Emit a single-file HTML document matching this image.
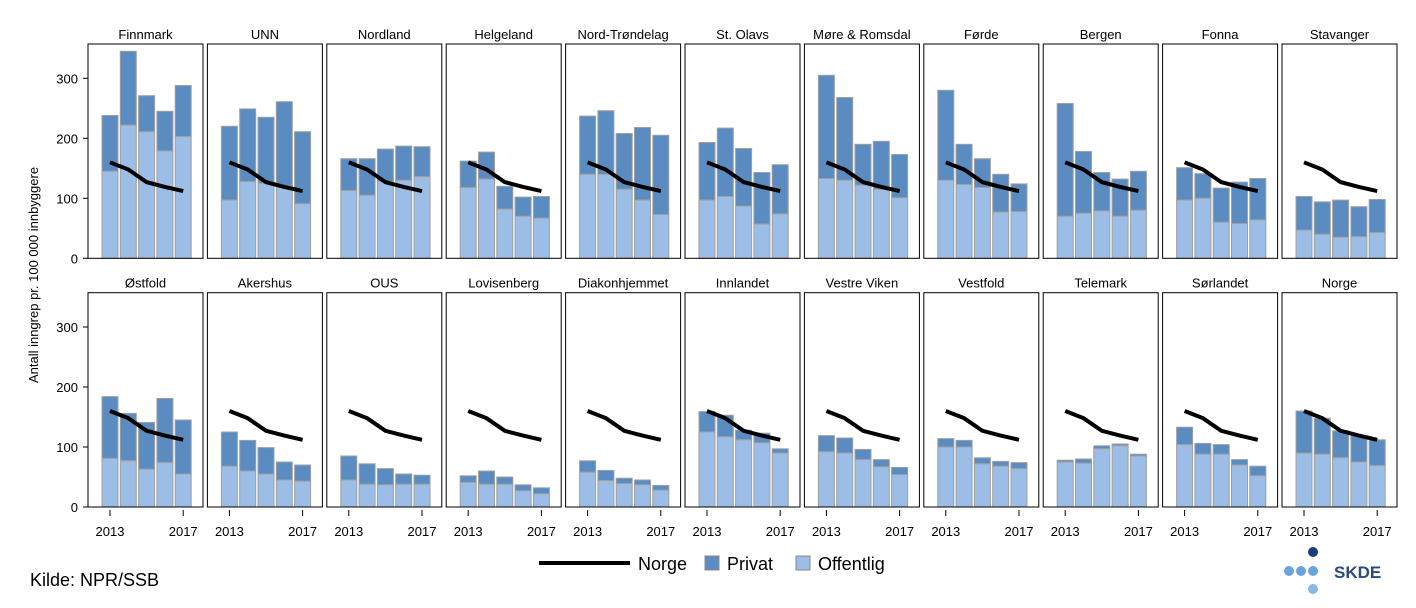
<!DOCTYPE html>
<html><head><meta charset="utf-8"><style>
body{margin:0;background:#fff;width:1416px;height:603px;overflow:hidden;font-family:"Liberation Sans",sans-serif}
svg text{font-family:"Liberation Sans",sans-serif}
</style></head><body>
<svg id="c" width="1416" height="603"></svg>
<script>
const names=["Finnmark","UNN","Nordland","Helgeland","Nord-Trøndelag","St. Olavs","Møre & Romsdal","Førde","Bergen","Fonna","Stavanger","Østfold","Akershus","OUS","Lovisenberg","Diakonhjemmet","Innlandet","Vestre Viken","Vestfold","Telemark","Sørlandet","Norge"];
const years=[2013,2014,2015,2016,2017];
const totals=[[238,345,271,245,288],[220,249,235,261,211],[166,166,182,187,186],[162,177,120,102,103],[237,246,208,218,205],[193,217,183,143,156],[305,268,190,195,173],[280,190,166,140,124],[258,178,143,132,145],[151,141,117,127,133],[103,94,97,86,98],
[184,156,141,181,145],[125,111,99,75,70],[85,72,64,55,53],[52,60,50,37,32],[77,61,48,45,36],[159,153,128,123,97],[119,115,96,79,66],[114,111,82,76,74],[78,80,102,105,88],[133,106,104,79,68],[160,148,127,119,112]];
const offentlig=[[145,222,211,179,203],[97,128,125,120,91],[113,105,128,130,136],[118,132,82,70,67],[140,140,115,97,73],[97,103,87,57,74],[133,130,122,115,101],[130,123,118,77,78],[70,75,79,70,80],[97,100,60,58,64],[47,40,35,36,43],
[81,77,63,74,55],[68,60,55,45,43],[45,38,37,38,38],[41,38,38,27,22],[58,44,39,37,28],[125,117,112,107,90],[92,90,79,67,54],[100,100,72,68,64],[75,73,97,102,85],[104,88,88,70,52],[90,88,82,75,69]];
const norge=[160,148,127,119,112];
const yTicks=[0,100,200,300];
const NS="http://www.w3.org/2000/svg";
const svg=document.getElementById('c');
function mk(t,a,p){const e=document.createElementNS(NS,t);for(const k in a)e.setAttribute(k,a[k]);(p||svg).appendChild(e);return e;}
const PW=115,PITCH=119.4,X0=88;
const rowTop=[44,292.7],rowBot=[258.3,507];
const sc=0.6;
names.forEach((n,i)=>{
  const r=Math.floor(i/11),c=i%11;
  const x0=X0+c*PITCH, y0=rowBot[r];
  const g=mk('g',{});
  
  
  const xs=yr=>x0+22+(yr-2013)*18.3;
  const ys=v=>y0-v*sc;
  const t=mk('text',{x:x0+PW/2,y:rowTop[r]-5,'text-anchor':'middle','font-size':13},g);t.textContent=n;
  
  years.forEach((yr,j)=>{
    const b1=mk('rect',{x:xs(yr)-8,y:ys(totals[i][j]),width:16,height:(totals[i][j]-offentlig[i][j])*sc,fill:'#5a8cc2',stroke:'#a0a0a0','stroke-width':1},g);
    
    const b2=mk('rect',{x:xs(yr)-8,y:ys(offentlig[i][j]),width:16,height:offentlig[i][j]*sc,fill:'#9bbde6',stroke:'#a0a0a0','stroke-width':1},g);
    
  });
  const pl=mk('polyline',{points:years.map((yr,j)=>xs(yr)+','+ys(norge[j])).join(' '),fill:'none',stroke:'#000','stroke-width':4},g);
  
  const bx=mk('rect',{x:x0,y:rowTop[r],width:PW,height:rowBot[r]-rowTop[r],fill:'none',stroke:'#000','stroke-width':1},g);
  
  if(r==1){[2013,2017].forEach(yr=>{
    mk('line',{x1:xs(yr),x2:xs(yr),y1:y0+3,y2:y0+9,stroke:'#000'},g);
    const tl=mk('text',{x:xs(yr),y:y0+29,'text-anchor':'middle','font-size':13},g);tl.textContent=yr;
    
  });}
  if(c==0){yTicks.forEach(v=>{
    mk('line',{x1:x0-5,x2:x0,y1:ys(v),y2:ys(v),stroke:'#000'});
    const tl=mk('text',{x:x0-10,y:ys(v)+5,'text-anchor':'end','font-size':13});tl.textContent=v;
    
  });}
});
const yt=mk('text',{x:0,y:0,transform:'translate(38,275) rotate(-90)','text-anchor':'middle','font-size':13});
yt.textContent='Antall inngrep pr. 100 000 innbyggere';

const lg=mk('g',{});
mk('line',{x1:539,x2:630,y1:563,y2:563,stroke:'#000','stroke-width':4},lg);
let tx=mk('text',{x:638,y:570,'font-size':18},lg);tx.textContent='Norge';
mk('rect',{x:705,y:556,width:14,height:14,fill:'#5a8cc2',stroke:'#888'},lg);
tx=mk('text',{x:727,y:570,'font-size':18},lg);tx.textContent='Privat';
mk('rect',{x:796,y:556,width:14,height:14,fill:'#9bbde6',stroke:'#888'},lg);
tx=mk('text',{x:818,y:570,'font-size':18},lg);tx.textContent='Offentlig';
tx=mk('text',{x:30,y:586,'font-size':18});tx.textContent='Kilde: NPR/SSB';

const lo=mk('g',{});
mk('circle',{cx:1313,cy:552,r:5,fill:'#1f3d73'},lo);
[1289,1301,1313].forEach(x=>mk('circle',{cx:x,cy:571,r:5,fill:'#6aa4dc'},lo));
mk('circle',{cx:1313,cy:589,r:5,fill:'#8ab8e6'},lo);
tx=mk('text',{x:1334,y:578,'font-size':17,'font-weight':'bold',fill:'#2b4a7d'},lo);tx.textContent='SKDE';
</script>
</body></html>
